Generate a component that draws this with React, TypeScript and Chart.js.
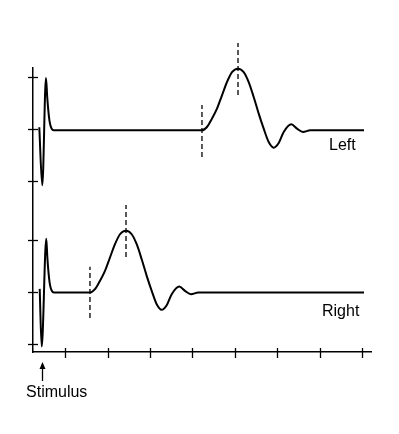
import React, { useEffect, useRef } from "react";
import { Chart, registerables } from "chart.js";

Chart.register(...registerables);

// Time axis ticks (arbitrary units) and voltage ticks
const X_TICKS = [1, 2, 3, 4, 5, 6, 7, 8];
const Y_TICKS = [-1, 0, 1, 2.105, 3.105, 4.105];

const X_MIN = 0.241;
const X_MAX = 8.214;
const Y_MIN = -1.143;
const Y_MAX = 4.267;

// Trace baselines
const LEFT_BASE = 3.08;
const RIGHT_BASE = -0.01;

// Left ear trace (relative to its baseline)
const LEFT_X = [0.389, 0.46, 0.547, 0.576, 0.602, 0.63, 0.661, 0.696, 0.736, 4.227, 4.345, 4.463, 4.581, 4.699, 4.817, 4.935, 5.077, 5.211, 5.329, 5.447, 5.565, 5.683, 5.801, 5.919, 6.037, 6.155, 6.334, 6.468, 6.61, 6.782, 8.049];
const LEFT_Y = [0.057, -1.048, 0.996, 0.64, 0.38, 0.18, 0.07, 0.015, 0, 0, 0.063, 0.223, 0.413, 0.667, 0.92, 1.11, 1.175, 1.11, 0.92, 0.634, 0.318, 0.032, -0.223, -0.33, -0.242, -0.032, 0.114, 0.032, -0.032, 0, 0];

// Right ear trace (relative to its baseline)
const RIGHT_X = [0.399, 0.446, 0.554, 0.58, 0.606, 0.633, 0.663, 0.698, 0.738, 1.585, 1.703, 1.821, 1.939, 2.057, 2.175, 2.293, 2.435, 2.569, 2.687, 2.805, 2.923, 3.041, 3.159, 3.277, 3.395, 3.513, 3.692, 3.826, 3.968, 4.14, 8.049];
const RIGHT_Y = [0.07, -1.029, 1.023, 0.66, 0.39, 0.19, 0.075, 0.015, 0, 0, 0.063, 0.223, 0.413, 0.667, 0.92, 1.11, 1.175, 1.11, 0.92, 0.634, 0.318, 0.032, -0.223, -0.33, -0.242, -0.032, 0.114, 0.032, -0.032, 0, 0];

// Dashed latency markers (onset / peak)
const MARKER_X = [1.585, 2.435, 4.227, 5.077];
const MARKER_LOW = [-0.495, 0.667, 2.571, 3.752];
const MARKER_HIGH = [0.482, 1.657, 3.562, 4.743];

// Stimulus arrow
const STIM_X = 0.46;
const STIM_TIP = -1.333;
const STIM_TAIL = -1.695;

// Text labels
const LABEL_TEXT = ["Left", "Right", "Stimulus"];
const LABEL_X = [7.223, 7.058, 0.8];
const LABEL_Y = [2.714, -0.457, -2.0];
const LABEL_ALIGN = ["left", "left", "center"];

const FONT = '16px "Liberation Sans", Arial, sans-serif';

const overlay = {
  id: "overlay",
  afterDraw(chart: any) {
    const ctx = chart.ctx;
    const xs = chart.scales.x;
    const ys = chart.scales.y;
    const area = chart.chartArea;
    ctx.save();
    ctx.strokeStyle = "#000";
    ctx.lineWidth = 1.3;
    // x ticks crossing the axis
    X_TICKS.forEach((t) => {
      const px = Math.round(xs.getPixelForValue(t)) + 0.5;
      ctx.beginPath();
      ctx.moveTo(px, area.bottom - 4);
      ctx.lineTo(px, area.bottom + 6);
      ctx.stroke();
    });
    // y ticks crossing the axis
    Y_TICKS.forEach((t) => {
      const py = Math.round(ys.getPixelForValue(t)) + 0.5;
      ctx.beginPath();
      ctx.moveTo(area.left - 5, py);
      ctx.lineTo(area.left + 5, py);
      ctx.stroke();
    });
    // stimulus arrow
    const ax = Math.round(xs.getPixelForValue(STIM_X)) + 0.5;
    const tip = ys.getPixelForValue(STIM_TIP);
    const tail = ys.getPixelForValue(STIM_TAIL);
    ctx.lineWidth = 1.3;
    ctx.beginPath();
    ctx.moveTo(ax, tip + 4);
    ctx.lineTo(ax, tail);
    ctx.stroke();
    ctx.fillStyle = "#000";
    ctx.beginPath();
    ctx.moveTo(ax, tip);
    ctx.lineTo(ax - 3, tip + 7);
    ctx.lineTo(ax + 3, tip + 7);
    ctx.closePath();
    ctx.fill();
    // labels
    ctx.font = FONT;
    ctx.textBaseline = "alphabetic";
    LABEL_TEXT.forEach((txt, i) => {
      ctx.textAlign = LABEL_ALIGN[i] as CanvasTextAlign;
      ctx.fillText(txt, xs.getPixelForValue(LABEL_X[i]), ys.getPixelForValue(LABEL_Y[i]));
    });
    ctx.restore();
  },
};

export default function App() {
  const ref = useRef<HTMLCanvasElement>(null);

  useEffect(() => {
    if (!ref.current) return;
    const trace = (xsArr: number[], ysArr: number[], base: number) => ({
      data: xsArr.map((x, i) => ({ x, y: ysArr[i] + base })),
      borderColor: "#000",
      borderWidth: 2,
      pointRadius: 0,
      tension: 0.4,
      cubicInterpolationMode: "monotone" as const,
      clip: false as any,
      fill: false,
    });
    const markers = MARKER_X.map((x, i) => ({
      data: [
        { x, y: MARKER_LOW[i] },
        { x, y: MARKER_HIGH[i] },
      ],
      borderColor: "#000",
      borderWidth: 1.3,
      borderDash: [5, 3],
      pointRadius: 0,
      tension: 0,
      clip: false as any,
      fill: false,
    }));
    const chart = new Chart(ref.current, {
      type: "line",
      data: {
        datasets: [trace(LEFT_X, LEFT_Y, LEFT_BASE), trace(RIGHT_X, RIGHT_Y, RIGHT_BASE), ...markers] as any,
      },
      options: {
        responsive: false,
        animation: false,
        events: [],
        layout: { padding: { left: 33, right: 28, top: 68, bottom: 82 } },
        plugins: { legend: { display: false }, tooltip: { enabled: false } },
        scales: {
          x: {
            type: "linear",
            min: X_MIN,
            max: X_MAX,
            ticks: { display: false },
            grid: { display: false, drawTicks: false },
            border: { display: true, color: "#000", width: 1.5 },
            afterBuildTicks: (s: any) => {
              s.ticks = X_TICKS.map((v) => ({ value: v }));
            },
            afterFit: (s: any) => {
              s.height = 0;
            },
          },
          y: {
            type: "linear",
            min: Y_MIN,
            max: Y_MAX,
            ticks: { display: false },
            grid: { display: false, drawTicks: false },
            border: { display: true, color: "#000", width: 1.5 },
            afterBuildTicks: (s: any) => {
              s.ticks = Y_TICKS.map((v) => ({ value: v }));
            },
            afterFit: (s: any) => {
              s.width = 0;
            },
          },
        },
      },
      plugins: [overlay],
    });
    return () => chart.destroy();
  }, []);

  return (
    <div style={{ position: "fixed", left: 0, top: 0, width: 399, height: 434, background: "#fff" }}>
      <canvas ref={ref} width={399} height={434} style={{ display: "block" }} />
    </div>
  );
}
